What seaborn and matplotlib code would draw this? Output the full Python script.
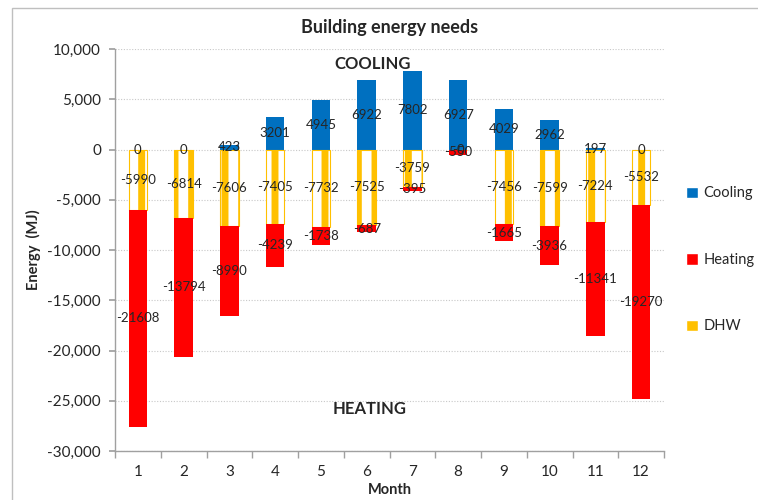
import matplotlib
matplotlib.use('Agg')
import matplotlib.pyplot as plt
import seaborn as sns
from matplotlib.patches import Patch, Rectangle
from matplotlib.ticker import FuncFormatter, FixedLocator

# === DONNEES ===
months = [str(m) for m in range(1, 13)]
cooling = [0, 0, 423, 3201, 4945, 6922, 7802, 6927, 4029, 2962, 197, 0]
dhw = [-5990, -6814, -7606, -7405, -7732, -7525, -3759, -0.0, -7456, -7599, -7224, -5532]
heating = [-21608, -13794, -8990, -4239, -1738, -687, -395, -550, -1665, -3936, -11341, -19270]

C_COOL = "#0070C0"
C_HEAT = "#FF0000"
C_DHW = "#FFC000"

sns.set_theme(style="white")
plt.rcParams["font.family"] = ["Lato", "DejaVu Sans"]
plt.rcParams["hatch.linewidth"] = 5
plt.rcParams["hatch.color"] = C_DHW

fig = plt.figure(figsize=(7.58, 5), dpi=100)
ax = fig.add_axes([115 / 758, 1 - 451 / 500, 549 / 758, 402 / 500])

# Barres empilées
sns.barplot(x=months, y=cooling, order=months, color=C_COOL, saturation=1, width=0.4, ax=ax, linewidth=0)
sns.barplot(x=months, y=dhw, order=months, color=C_DHW, saturation=1, width=0.4, ax=ax, linewidth=0.8)
sns.barplot(x=months, y=heating, order=months, color=C_HEAT, saturation=1, width=0.4, ax=ax,
            bottom=dhw, linewidth=0)

# DHW en motif rayé
for p in ax.containers[1]:
    p.set_facecolor("white")
    p.set_edgecolor(C_DHW)
    p.set_hatch("|")

# Etiquettes de données
ax.bar_label(ax.containers[0], labels=[f"{v:.0f}" for v in cooling], label_type="center", fontsize=9.5)
ax.bar_label(ax.containers[1], labels=[f"{v:.0f}" for v in dhw], label_type="center", fontsize=9.5)
ax.bar_label(ax.containers[2], labels=[f"{v:.0f}" for v in heating], label_type="center", fontsize=9.5)

# Axes
ax.set_ylim(-30000, 10000)
ax.set_xlim(-0.5, 11.5)
ax.set_yticks(range(-30000, 10001, 5000))
ax.yaxis.set_major_formatter(FuncFormatter(lambda v, _: f"{v:,.0f}"))
ax.yaxis.grid(True, linestyle=(0, (1, 1.5)), color="#c8c8c8", linewidth=0.8)
ax.set_axisbelow(True)
ax.tick_params(axis="y", which="major", length=4, color="#a0a0a0", labelsize=11, left=True, pad=6)
ax.tick_params(axis="x", which="major", length=0, labelsize=11, pad=10)
ax.xaxis.set_minor_locator(FixedLocator([i - 0.5 for i in range(13)]))
ax.tick_params(axis="x", which="minor", length=5, color="#a0a0a0", bottom=True)
for s in ["top", "right"]:
    ax.spines[s].set_visible(False)
for s in ["left", "bottom"]:
    ax.spines[s].set_color("#a0a0a0")
    ax.spines[s].set_linewidth(1)

ax.set_ylabel("Energy  (MJ)", fontsize=10.5, fontweight="bold")
ax.yaxis.set_label_coords(-74 / 549, 0.5)
ax.set_xlabel("Month", fontsize=10.5, fontweight="bold")
ax.xaxis.set_label_coords(0.5, -32 / 402)

ax.text(5.14, 8500, "COOLING", ha="center", va="center", fontsize=12, fontweight="bold")
ax.text(5.07, -25800, "HEATING", ha="center", va="center", fontsize=12, fontweight="bold")

fig.text(390 / 758, 1 - 28 / 500, "Building energy needs", ha="center", va="center",
         fontsize=13, fontweight="bold")

handles = [Patch(facecolor=C_COOL, label="Cooling"),
           Patch(facecolor=C_HEAT, label="Heating"),
           Patch(facecolor=C_DHW, label="DHW")]
fig.legend(handles=handles, loc="center left", bbox_to_anchor=(686 / 758, 1 - 260 / 500),
           frameon=False, fontsize=10.5, labelspacing=3.6, handlelength=0.8, handleheight=0.8,
           handletextpad=0.4, borderpad=0, borderaxespad=0)

# Cadre du graphique
fig.add_artist(Rectangle((12 / 758, -0.05), 1.0, 1.05 - 8 / 500, transform=fig.transFigure,
                         fill=False, edgecolor="#bfbfbf", linewidth=1))

plt.savefig("out.png", dpi=100)
plt.close()
